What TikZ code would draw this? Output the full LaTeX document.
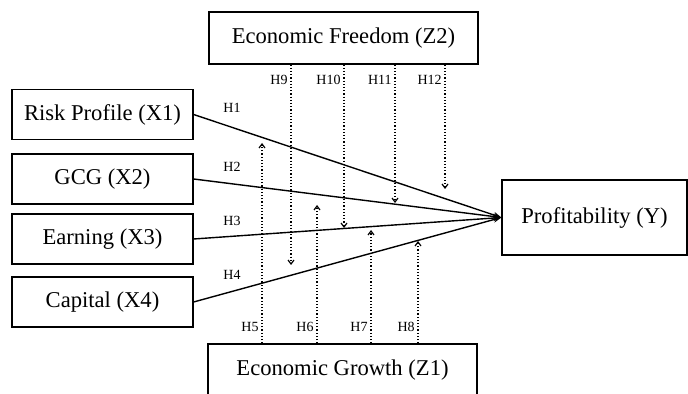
\documentclass[tikz,border=0pt]{standalone}
\usepackage{fontspec}
\setmainfont{Liberation Serif}
\usetikzlibrary{arrows.meta}

\begin{document}
\begin{tikzpicture}[
    x=0.5pt, y=-0.5pt,
    >={Stealth[length=4pt, width=3pt]},
    box/.style={rectangle, draw, line width=0.6pt, inner sep=0pt, font=\fontsize{11.3}{13}\selectfont, align=center},
    varbox/.style={box, minimum width=90.5pt, minimum height=25pt},
    modbox/.style={box, minimum width=134.5pt, minimum height=26pt},
    effect/.style={->, line width=0.7pt},
    modarrow/.style={-{Straight Barb[length=2pt, width=3pt]}, densely dotted, line width=0.6pt},
    hyp/.style={inner sep=0pt, font=\fontsize{7}{8}\selectfont}
  ]
    \useasboundingbox (0,0) rectangle (688,394);

    \node[varbox] (risk) at (102.5,114.5) {Risk Profile (X1)};
    \node[varbox] (gcg) at (102.5,179) {GCG (X2)};
    \node[varbox] (earn) at (102.5,239) {Earning (X3)};
    \node[varbox] (cap) at (102.5,302) {Capital (X4)};
    \node[box, minimum width=92.5pt, minimum height=37.5pt] (prof) at (594.5,217.5) {Profitability (Y)};
    \node[modbox] (free) at (343.5,38) {Economic Freedom (Z2)};
    \node[modbox] (grow) at (342.5,370) {Economic Growth (Z1)};

    % direct effects
    \draw[effect] (risk.east) -- (prof.west);
    \draw[effect] (gcg.east) -- (prof.west);
    \draw[effect] (earn.east) -- (prof.west);
    \draw[effect] (cap.east) -- (prof.west);
    \node[hyp] (h1) at (232,108) {H1};
    \node[hyp] (h2) at (232,167) {H2};
    \node[hyp] (h3) at (232,221) {H3};
    \node[hyp] (h4) at (232,275) {H4};

    % moderation by Z2
    \foreach \x/\y/\n in {291/265/9, 344/228/10, 395/203/11, 445/189/12} {
      \coordinate (e\n) at (\x,\y);
      \draw[modarrow] (free.south -| e\n) -- (e\n);
      \node[hyp, anchor=east] (h\n) at (\x-3,80) {H\n};
    }

    % moderation by Z1
    \foreach \x/\y/\n in {262/143/5, 317/205/6, 371/230/7, 418/241/8} {
      \coordinate (e\n) at (\x,\y);
      \draw[modarrow] (grow.north -| e\n) -- (e\n);
      \node[hyp, anchor=east] (h\n) at (\x-3,327) {H\n};
    }
  \end{tikzpicture}
\end{document}
